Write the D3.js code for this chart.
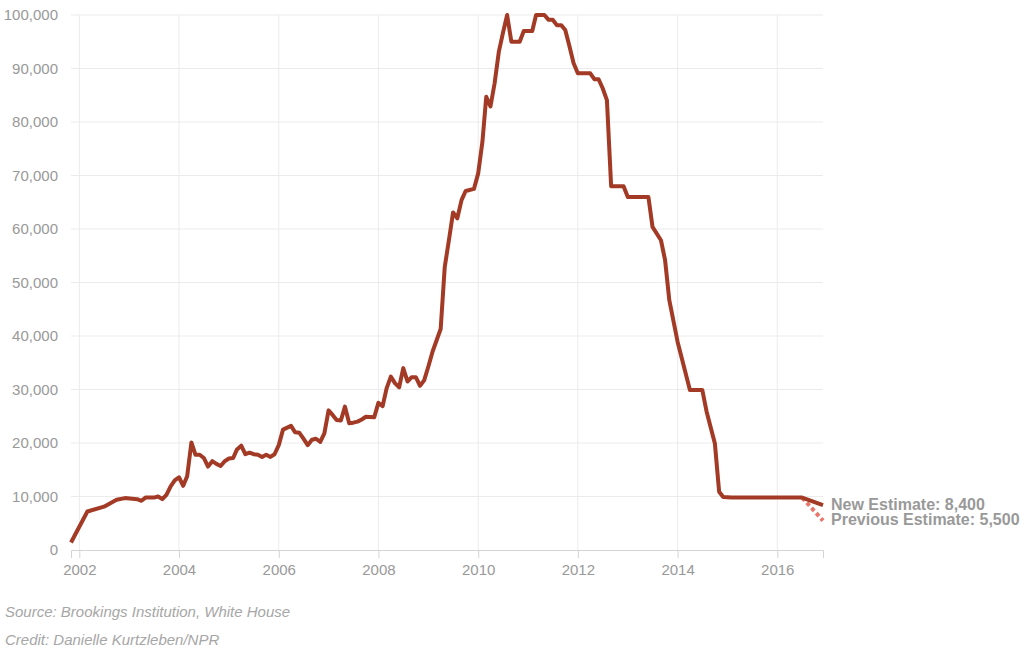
<!DOCTYPE html>
<html>
<head>
<meta charset="utf-8">
<script src="https://cdn.jsdelivr.net/npm/d3@7"></script>
<style>
    body { margin: 0; background: #fff; font-family: "Liberation Sans", Arial, sans-serif; }
    .grid line { stroke: #ebebeb; stroke-width: 1; }
    .axis text { fill: #999; font-size: 15px; font-family: "Liberation Sans", Arial, sans-serif; }
    .axis .domain { stroke: #d4d4d4; }
    .axis line { stroke: #d4d4d4; }
    .note { fill: #999; font-size: 16px; font-weight: bold; }
    .footer { fill: #a6a6a6; font-size: 15px; font-style: italic; }
</style>
</head>
<body>
<div></div>
<script>
// monthly estimate of troops in Afghanistan
var months = [
    "2001-11", "2002-03", "2002-07", "2002-10", "2002-12",
    "2003-03", "2003-04", "2003-05", "2003-07", "2003-08", "2003-09", "2003-10", "2003-11", "2003-12",
    "2004-01", "2004-02", "2004-03", "2004-04", "2004-05", "2004-06", "2004-07", "2004-08", "2004-09", "2004-10", "2004-11", "2004-12",
    "2005-01", "2005-02", "2005-03", "2005-04", "2005-05", "2005-06", "2005-07", "2005-08", "2005-09", "2005-10", "2005-11", "2005-12",
    "2006-01", "2006-02", "2006-04", "2006-05", "2006-06", "2006-07", "2006-08", "2006-09", "2006-10", "2006-11", "2006-12",
    "2007-01", "2007-02", "2007-03", "2007-04", "2007-05", "2007-06", "2007-07", "2007-08", "2007-09", "2007-10", "2007-12",
    "2008-01", "2008-02", "2008-03", "2008-04", "2008-05", "2008-06", "2008-07", "2008-08", "2008-09", "2008-10", "2008-11", "2008-12",
    "2009-01", "2009-02", "2009-04", "2009-05", "2009-06", "2009-07", "2009-08", "2009-09", "2009-10", "2009-12",
    "2010-01", "2010-02", "2010-03", "2010-04", "2010-05", "2010-06", "2010-07", "2010-08", "2010-09", "2010-11", "2010-12",
    "2011-02", "2011-03", "2011-05", "2011-06", "2011-07", "2011-08", "2011-09", "2011-10", "2011-11", "2011-12",
    "2012-01", "2012-04", "2012-05", "2012-06", "2012-07", "2012-08", "2012-09", "2012-12",
    "2013-01", "2013-06", "2013-07", "2013-09", "2013-10", "2013-11",
    "2014-01", "2014-04", "2014-07", "2014-08", "2014-10", "2014-11", "2014-12",
    "2015-02", "2016-07", "2016-12"
];
var troops = [
    1400, 7200, 8100, 9400, 9700,
    9500, 9200, 9800, 9800, 10000, 9500, 10300, 11900, 13000,
    13600, 12000, 13800, 20100, 17800, 17800, 17200, 15600, 16600, 16100, 15700, 16600,
    17100, 17200, 18800, 19500, 17900, 18200, 17900, 17800, 17400, 17800, 17400, 17900,
    19600, 22500, 23200, 22000, 21900, 20800, 19600, 20600, 20800, 20200, 21800,
    26100, 25200, 24300, 24200, 26800, 23700, 23800, 24000, 24400, 24900, 24800,
    27500, 26900, 30200, 32400, 31200, 30400, 34000, 31500, 32300, 32300, 30700, 31700,
    34300, 37100, 41300, 52900, 58000, 63100, 62000, 65400, 67100, 67500,
    70400, 76300, 84700, 82900, 87200, 93100, 96600, 100000, 95000, 95000, 97000,
    97000, 100000, 100000, 99100, 99100, 98100, 98100, 97200, 94100, 91000,
    89100, 89100, 88000, 88000, 86300, 84100, 68000, 68000,
    66000, 66000, 60400, 57900, 54200, 46700,
    38900, 29900, 29900, 25900, 19900, 10900, 9900,
    9800, 9800, 8400
];
// earlier projection for the end of 2016
var prevMonths = ["2016-07", "2016-12"];
var prevTroops = [9800, 5500];

var xDomain = ["2001-11", "2016-12"];
var xTicks = ["2002-01", "2004-01", "2006-01", "2008-01", "2010-01", "2012-01", "2014-01", "2016-01"];
var yTicks = [0, 10000, 20000, 30000, 40000, 50000, 60000, 70000, 80000, 90000, 100000];
var notes = ["New Estimate: 8,400", "Previous Estimate: 5,500"];
var footer = ["Source: Brookings Institution, White House", "Credit: Danielle Kurtzleben/NPR"];

var margin = {
        top: 15,
        right: 201,
        bottom: 104,
        left: 71
    },
    width = 1024 - margin.left - margin.right,
    height = 654 - margin.top - margin.bottom;

var parseMonth = d3.timeParse("%Y-%m");

var x = d3.scaleTime()
    .domain(xDomain.map(parseMonth))
    .range([0, width]);
var y = d3.scaleLinear()
    .domain([0, 100000])
    .range([height, 0]);

var data = months.map(function (m, i) {
    return { date: parseMonth(m), value: troops[i] };
});
var prev = prevMonths.map(function (m, i) {
    return { date: parseMonth(m), value: prevTroops[i] };
});

var root = d3.select("div")
    .append("svg")
    .attr("width", 1024)
    .attr("height", 654);

var svg = root.append("g")
    .attr("transform", "translate(" + margin.left + "," + margin.top + ")");

// gridlines
svg.append("g")
    .attr("class", "grid")
    .selectAll("line.h")
    .data(yTicks.slice(1))
    .enter()
    .append("line")
    .attr("x1", 0)
    .attr("x2", width)
    .attr("y1", function (d) { return y(d); })
    .attr("y2", function (d) { return y(d); });

svg.select(".grid")
    .selectAll("line.v")
    .data(xTicks.map(parseMonth))
    .enter()
    .append("line")
    .attr("x1", function (d) { return x(d); })
    .attr("x2", function (d) { return x(d); })
    .attr("y1", 0)
    .attr("y2", height);

// axes
svg.append("g")
    .attr("class", "x axis")
    .attr("transform", "translate(0," + height + ")")
    .call(d3.axisBottom(x)
        .tickValues(xTicks.map(parseMonth))
        .tickFormat(d3.timeFormat("%Y"))
        .tickSize(8)
        .tickSizeOuter(8)
        .tickPadding(6));

svg.append("g")
    .attr("class", "y axis")
    .call(d3.axisLeft(y)
        .tickValues(yTicks)
        .tickFormat(d3.format(","))
        .tickSize(0)
        .tickPadding(13))
    .call(function (g) { g.select(".domain").remove(); });

var line = d3.line()
    .x(function (d) { return x(d.date); })
    .y(function (d) { return y(d.value); });

svg.append("path")
    .datum(prev)
    .attr("fill", "none")
    .attr("stroke", "#e8766b")
    .attr("stroke-width", 4)
    .attr("stroke-dasharray", "4,3")
    .attr("d", line);

svg.append("path")
    .datum(data)
    .attr("fill", "none")
    .attr("stroke", "#a33a25")
    .attr("stroke-width", 4)
    .attr("stroke-linejoin", "round")
    .attr("d", line);

// end labels
var last = data[data.length - 1];
svg.selectAll(".note")
    .data(notes)
    .enter()
    .append("text")
    .attr("class", "note")
    .attr("x", width + 8)
    .attr("y", function (d, i) { return y(last.value) + 5 + i * 15; })
    .text(String);

root.selectAll(".footer")
    .data(footer)
    .enter()
    .append("text")
    .attr("class", "footer")
    .attr("x", 5)
    .attr("y", function (d, i) { return 617 + i * 28; })
    .text(String);
</script>
</body>
</html>
